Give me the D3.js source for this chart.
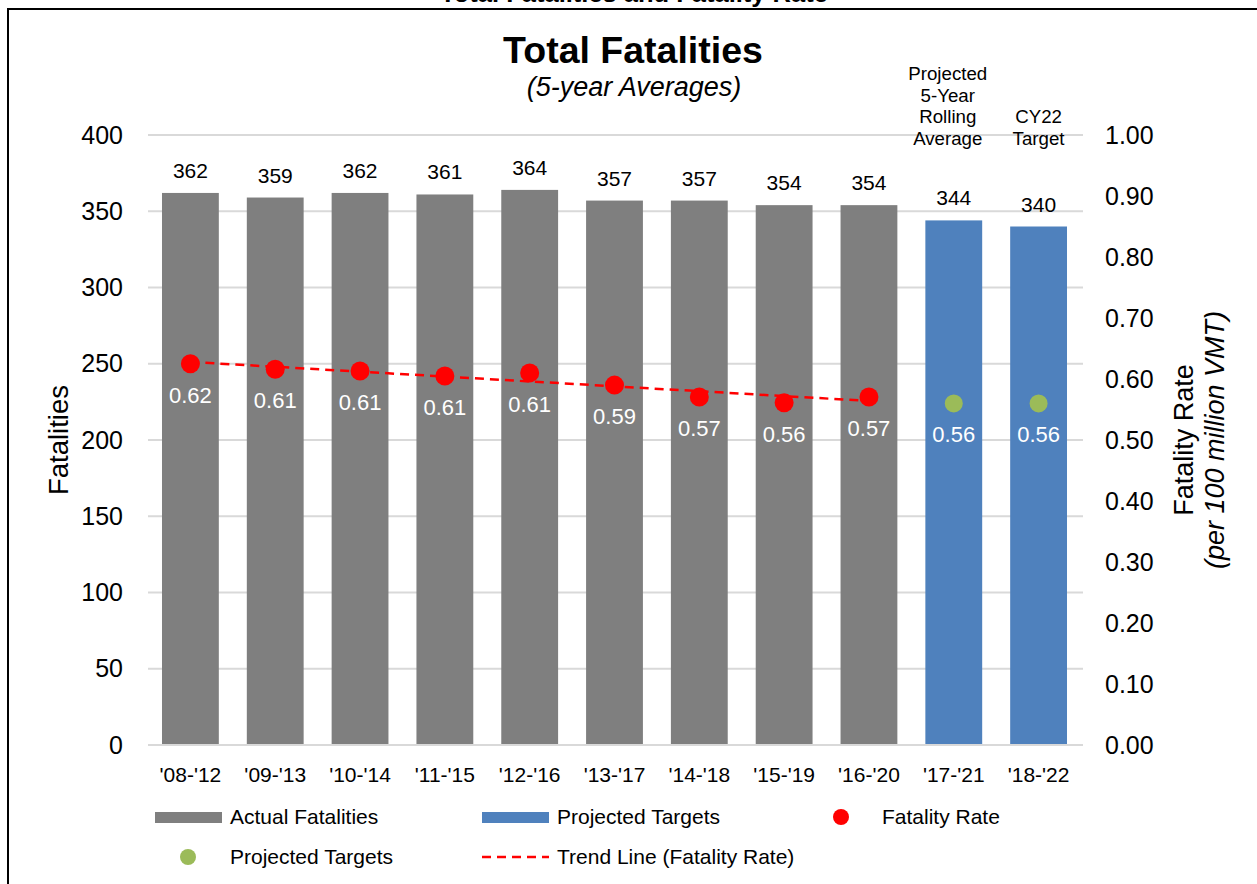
<!DOCTYPE html>
<html>
<head>
<meta charset="utf-8">
<script src="https://cdn.jsdelivr.net/npm/d3@7/dist/d3.min.js"></script>
<style>
  html, body { margin: 0; padding: 0; background: #fff; }
  svg { display: block; font-family: "Liberation Sans", Arial, sans-serif; }
</style>
</head>
<body>
<svg id="chart" width="1257" height="884"></svg>
<script>
// ---- data ----
const categories = ["'08-'12","'09-'13","'10-'14","'11-'15","'12-'16","'13-'17","'14-'18","'15-'19","'16-'20","'17-'21","'18-'22"];
const fatalities = [362, 359, 362, 361, 364, 357, 357, 354, 354, 344, 340];
const barType = ["actual","actual","actual","actual","actual","actual","actual","actual","actual","projected","projected"];
const fatalityRate = [0.625, 0.616, 0.613, 0.605, 0.610, 0.590, 0.5705, 0.561, 0.5705, null, null];
const rateLabels = ["0.62","0.61","0.61","0.61","0.61","0.59","0.57","0.56","0.57","0.56","0.56"];
const projectedRate = [null, null, null, null, null, null, null, null, null, 0.56, 0.56];
const trendLine = [{cat: "'08-'12", v: 0.628}, {cat: "'16-'20", v: 0.564}];
const leftTicks = [0, 50, 100, 150, 200, 250, 300, 350, 400];
const rightTicks = [0, 0.1, 0.2, 0.3, 0.4, 0.5, 0.6, 0.7, 0.8, 0.9, 1.0];
const annotations = [
  {cat: "'17-'21", dx: -6, lines: ["Projected", "5-Year", "Rolling", "Average"]},
  {cat: "'18-'22", dx: 0, lines: ["CY22", "Target"]}
];

const colors = {actual: "#7f7f7f", projected: "#4f81bd", rate: "#ff0000", projRate: "#9bbb59", grid: "#d9d9d9"};

const svg = d3.select("#chart");

// frame + cut-off top title
svg.append("rect").attr("x", 8).attr("y", 9).attr("width", 1400).attr("height", 1000)
  .attr("fill", "none").attr("stroke", "#000").attr("stroke-width", 2);
svg.append("text").attr("x", 634).attr("y", 2).attr("text-anchor", "middle")
  .attr("font-size", 25.5).attr("font-weight", "bold").text("Total Fatalities and Fatality Rate");

const x = d3.scaleBand().domain(categories).range([148, 1081]).paddingInner(0.33).paddingOuter(0.165);
const yL = d3.scaleLinear().domain([0, 400]).range([745, 135]);
const yR = d3.scaleLinear().domain([0, 1]).range([745, 135]);

// gridlines
svg.append("g").selectAll("line").data(leftTicks).join("line")
  .attr("x1", 148).attr("x2", 1083)
  .attr("y1", d => yL(d)).attr("y2", d => yL(d))
  .attr("stroke", colors.grid).attr("stroke-width", 2);

const tickFont = "Liberation Sans, Arial, sans-serif";

// left axis
const axL = svg.append("g").attr("transform", "translate(148,0)")
  .call(d3.axisLeft(yL).tickValues(leftTicks).tickSize(0).tickPadding(25));
axL.select(".domain").remove();
axL.selectAll("text").attr("font-size", 25).attr("fill", "#000").attr("font-family", tickFont);

// right axis
const axR = svg.append("g").attr("transform", "translate(1081,0)")
  .call(d3.axisRight(yR).tickValues(rightTicks).tickFormat(d3.format(".2f")).tickSize(0).tickPadding(24));
axR.select(".domain").remove();
axR.selectAll("text").attr("font-size", 25).attr("fill", "#000").attr("font-family", tickFont);

// bottom axis
const axB = svg.append("g").attr("transform", "translate(0,745)")
  .call(d3.axisBottom(x).tickSize(0).tickPadding(22));
axB.select(".domain").remove();
axB.selectAll("text").attr("font-size", 21).attr("fill", "#000").attr("font-family", tickFont);

// bars
svg.append("g").selectAll("rect").data(categories).join("rect")
  .attr("x", d => x(d)).attr("width", x.bandwidth())
  .attr("y", (d, i) => yL(fatalities[i]))
  .attr("height", (d, i) => yL(0) - yL(fatalities[i]))
  .attr("fill", (d, i) => colors[barType[i]]);

// baseline
svg.append("line").attr("x1", 148).attr("x2", 1083).attr("y1", 745).attr("y2", 745)
  .attr("stroke", colors.grid).attr("stroke-width", 2);

// bar labels
svg.append("g").selectAll("text").data(categories).join("text")
  .attr("x", d => x(d) + x.bandwidth() / 2)
  .attr("y", (d, i) => yL(fatalities[i]) - 15)
  .attr("text-anchor", "middle").attr("font-size", 21).attr("fill", "#000")
  .text((d, i) => fatalities[i]);

// trend line
svg.append("path")
  .attr("d", d3.line().x(d => x(d.cat) + x.bandwidth() / 2).y(d => yR(d.v))(trendLine))
  .attr("fill", "none").attr("stroke", colors.rate).attr("stroke-width", 2.5)
  .attr("stroke-dasharray", "9,6");

// rate points
const rateIdx = categories.map((c, i) => i).filter(i => fatalityRate[i] != null);
svg.append("g").selectAll("circle").data(rateIdx).join("circle")
  .attr("cx", i => x(categories[i]) + x.bandwidth() / 2)
  .attr("cy", i => yR(fatalityRate[i])).attr("r", 9.5).attr("fill", colors.rate);

const projIdx = categories.map((c, i) => i).filter(i => projectedRate[i] != null);
svg.append("g").selectAll("circle").data(projIdx).join("circle")
  .attr("cx", i => x(categories[i]) + x.bandwidth() / 2)
  .attr("cy", i => yR(projectedRate[i])).attr("r", 9).attr("fill", colors.projRate);

// rate labels
svg.append("g").selectAll("text").data(categories).join("text")
  .attr("x", d => x(d) + x.bandwidth() / 2)
  .attr("y", (d, i) => yR(fatalityRate[i] != null ? fatalityRate[i] : projectedRate[i]) + 39)
  .attr("text-anchor", "middle").attr("font-size", 22).attr("fill", "#fff")
  .text((d, i) => rateLabels[i]);

// annotations above projected bars
annotations.forEach(a => {
  const n = a.lines.length;
  svg.append("text").attr("text-anchor", "middle").attr("font-size", 18.7).attr("fill", "#000")
    .selectAll("tspan").data(a.lines).join("tspan")
    .attr("x", x(a.cat) + x.bandwidth() / 2 + a.dx)
    .attr("y", (d, j) => 145 - (n - 1 - j) * 21.7)
    .text(d => d);
});

// titles
svg.append("text").attr("x", 633).attr("y", 63).attr("text-anchor", "middle")
  .attr("font-size", 37.5).attr("font-weight", "bold").text("Total Fatalities");
svg.append("text").attr("x", 634).attr("y", 96).attr("text-anchor", "middle")
  .attr("font-size", 27).attr("font-style", "italic").text("(5-year Averages)");

// axis titles
svg.append("text").attr("transform", "translate(68,440) rotate(-90)")
  .attr("text-anchor", "middle").attr("font-size", 27.5).text("Fatalities");
svg.append("text").attr("transform", "translate(1193,440) rotate(-90)")
  .attr("text-anchor", "middle").attr("font-size", 27).text("Fatality Rate");
svg.append("text").attr("transform", "translate(1224,440) rotate(-90)")
  .attr("text-anchor", "middle").attr("font-size", 27).attr("font-style", "italic").text("(per 100 million VMT)");

// legend
const legendItems = [
  {label: "Actual Fatalities", type: "bar", color: colors.actual, x: 155, y: 817},
  {label: "Projected Targets", type: "bar", color: colors.projected, x: 482, y: 817},
  {label: "Fatality Rate", type: "dot", color: colors.rate, x: 841, tx: 882, y: 817},
  {label: "Projected Targets", type: "dot", color: colors.projRate, x: 188, tx: 230, y: 857},
  {label: "Trend Line (Fatality Rate)", type: "dash", color: colors.rate, x: 482, y: 857}
];
const lg = svg.append("g").selectAll("g").data(legendItems).join("g");
lg.each(function(d) {
  const g = d3.select(this);
  if (d.type === "bar") {
    g.append("rect").attr("x", d.x).attr("y", d.y - 5).attr("width", 67).attr("height", 11).attr("fill", d.color);
  } else if (d.type === "dot") {
    g.append("circle").attr("cx", d.x).attr("cy", d.y).attr("r", 8).attr("fill", d.color);
  } else {
    g.append("line").attr("x1", d.x).attr("x2", d.x + 67).attr("y1", d.y).attr("y2", d.y)
      .attr("stroke", d.color).attr("stroke-width", 2.5).attr("stroke-dasharray", "9,6");
  }
  g.append("text").attr("x", d.tx != null ? d.tx : d.x + 75).attr("y", d.y + 7)
    .attr("font-size", 21).attr("fill", "#000").text(d.label);
});
</script>
</body>
</html>
